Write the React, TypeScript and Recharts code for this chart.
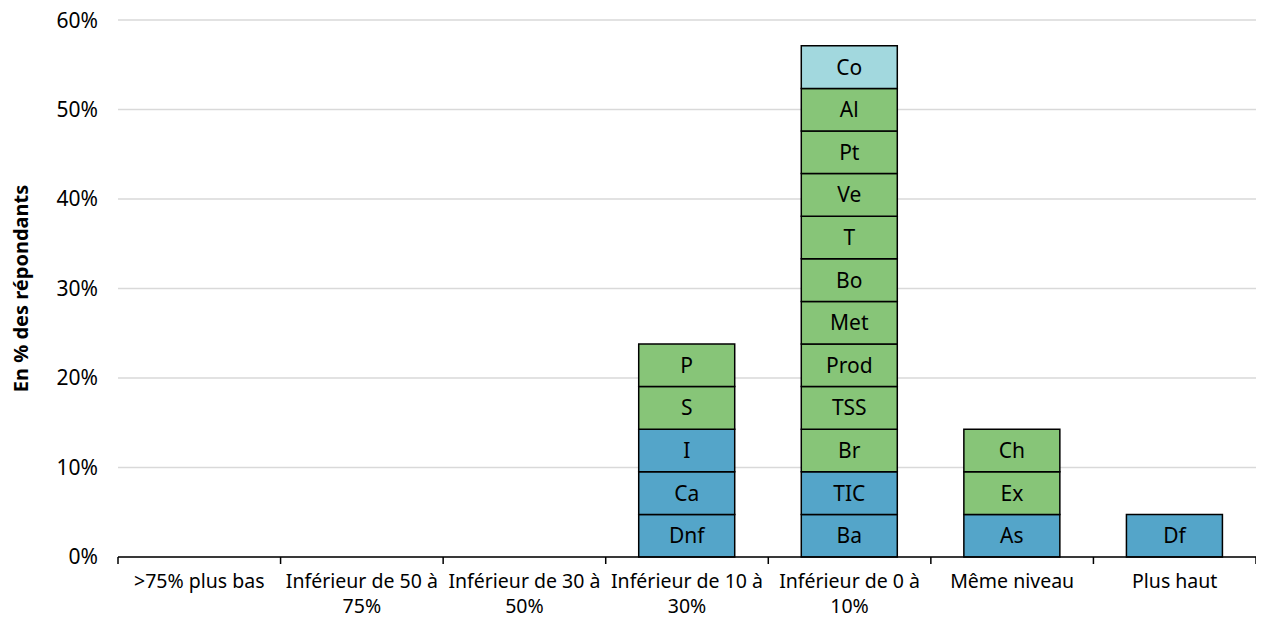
import React from 'react';
import { BarChart, Bar, XAxis, YAxis, CartesianGrid, LabelList, Cell } from 'recharts';

// one respondent out of 21
const SHARE = 4.76;

const categories = [
  '>75% plus bas',
  'Inférieur de 50 à 75%',
  'Inférieur de 30 à 50%',
  'Inférieur de 10 à 30%',
  'Inférieur de 0 à 10%',
  'Même niveau',
  'Plus haut',
];

// segment names, from bottom to top
const segmentLabels: string[][] = [
  [],
  [],
  [],
  ['Dnf', 'Ca', 'I', 'S', 'P'],
  ['Ba', 'TIC', 'Br', 'TSS', 'Prod', 'Met', 'Bo', 'T', 'Ve', 'Pt', 'Al', 'Co'],
  ['As', 'Ex', 'Ch'],
  ['Df'],
];

// b = bleu, g = vert, c = cyan clair
const segmentGroups: string[][] = [
  [],
  [],
  [],
  ['b', 'b', 'b', 'g', 'g'],
  ['b', 'b', 'g', 'g', 'g', 'g', 'g', 'g', 'g', 'g', 'g', 'c'],
  ['b', 'g', 'g'],
  ['b'],
];

const yTicks = [0, 10, 20, 30, 40, 50, 60];

const COLORS: Record<string, string> = {
  b: '#54a5c9',
  g: '#87c578',
  c: '#a2d8de',
};

const MAX_SEG = 12;
const FONT = "'Noto Sans', sans-serif";
const FS = 21;
const XFS = 19.5;
const WIDTH = 1256;
const HEIGHT = 610;
const MARGIN = { top: 12, right: 8, left: 0, bottom: 0 };
const Y_WIDTH = 110;
const BAND = (WIDTH - MARGIN.right - Y_WIDTH) / categories.length;

const data = categories.map((name, ci) => {
  const row: Record<string, string | number | undefined> = { name };
  segmentLabels[ci].forEach((lab, si) => {
    row[`s${si}`] = SHARE;
    row[`l${si}`] = lab;
  });
  return row;
});

// coupe le libellé en lignes selon la largeur disponible
let ctx: CanvasRenderingContext2D | null = null;
function wrap(text: string, maxW: number): string[] {
  if (!ctx) ctx = document.createElement('canvas').getContext('2d');
  if (!ctx) return [text];
  ctx.font = `${XFS}px 'Noto Sans'`;
  const lines: string[] = [];
  let cur = '';
  text.split(' ').forEach((w) => {
    const t = cur ? `${cur} ${w}` : w;
    if (cur && ctx!.measureText(t).width > maxW) {
      lines.push(cur);
      cur = w;
    } else {
      cur = t;
    }
  });
  if (cur) lines.push(cur);
  return lines;
}

const XTick = (props: any) => {
  const { x, y, payload, index } = props;
  const half = BAND / 2;
  const lines = wrap(String(payload.value), BAND);
  return (
    <g>
      <line x1={x - half} y1={y} x2={x - half} y2={y + 7} stroke="#000" strokeWidth={1.5} />
      {index === categories.length - 1 && (
        <line x1={x + half} y1={y} x2={x + half} y2={y + 7} stroke="#000" strokeWidth={1.5} />
      )}
      <text x={x} y={y + 31} textAnchor="middle" fontSize={XFS} fontFamily={FONT} fill="#000">
        {lines.map((l, i) => (
          <tspan key={i} x={x} dy={i === 0 ? 0 : 25}>
            {l}
          </tspan>
        ))}
      </text>
    </g>
  );
};

export default function App() {
  return (
    <div style={{ fontFamily: FONT }}>
      <BarChart width={WIDTH} height={HEIGHT} data={data} margin={MARGIN} barSize={96}>
        <CartesianGrid vertical={false} stroke="#d9d9d9" strokeWidth={1.5} />
        <XAxis
          dataKey="name"
          height={HEIGHT - MARGIN.top - 537}
          interval={0}
          tickLine={false}
          tickSize={0}
          tickMargin={0}
          axisLine={{ stroke: '#000', strokeWidth: 1.5 }}
          tick={<XTick />}
        />
        <YAxis
          width={Y_WIDTH}
          domain={[0, 60]}
          ticks={yTicks}
          tickFormatter={(v) => `${v}%`}
          axisLine={false}
          tickLine={false}
          tickSize={0}
          tickMargin={20}
          tick={{ fontSize: FS, fill: '#000', fontFamily: FONT }}
          label={{
            value: 'En % des répondants',
            angle: -90,
            position: 'insideLeft',
            offset: 13,
            style: { textAnchor: 'middle', fontWeight: 'bold', fontSize: 20, fill: '#000', fontFamily: FONT },
          }}
        />
        {Array.from({ length: MAX_SEG }, (_, si) => (
          <Bar
            key={si}
            dataKey={`s${si}`}
            stackId="a"
            isAnimationActive={false}
            stroke="#000"
            strokeWidth={1.5}
          >
            {data.map((_, ci) => (
              <Cell key={ci} fill={COLORS[segmentGroups[ci][si]] || '#fff'} />
            ))}
            <LabelList
              dataKey={`l${si}`}
              position="center"
              fill="#000"
              fontSize={FS}
              fontFamily={FONT}
            />
          </Bar>
        ))}
      </BarChart>
    </div>
  );
}
